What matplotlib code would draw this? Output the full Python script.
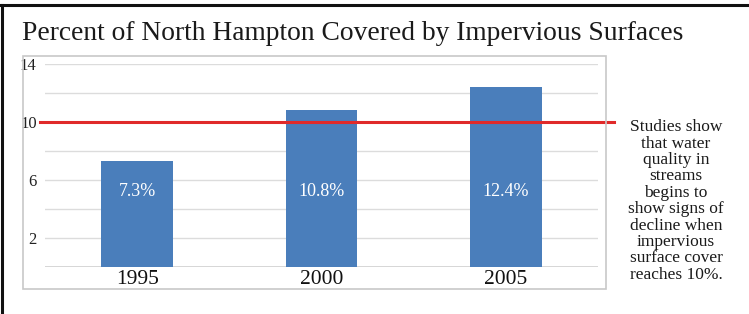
import matplotlib.pyplot as plt
from matplotlib.patches import Rectangle
from matplotlib.lines import Line2D

years = ["1995", "2000", "2005"]
values = [7.3, 10.8, 12.4]
bar_labels = ["7.3%", "10.8%", "12.4%"]
threshold = 10
y_ticks = [2, 6, 10, 14]
grid_levels = [2, 4, 6, 8, 10, 12, 14]

BAR_COLOR = "#4a7ebb"
RED = "#e02a2a"
W, H = 749, 314

plt.rcParams["font.family"] = ["Liberation Serif", "DejaVu Serif"]

fig = plt.figure(figsize=(W / 100, H / 100), dpi=100)

# outer black frame (top and left visible)
fig.add_artist(Line2D([0, 1], [1 - 4.5 / H, 1 - 4.5 / H], color="#111111", lw=2.2))
fig.add_artist(Line2D([1.5 / W, 1.5 / W], [0, 1 - 4.5 / H], color="#111111", lw=2.2))

# light chart-area box
fig.add_artist(Rectangle((23 / W, 1 - 289 / H), (606 - 23) / W, (289 - 56) / H,
                         transform=fig.transFigure, fill=False, ec="#c8c8c8", lw=1.2))

fig.text(22 / W, 1 - 33 / H, "Percent of North Hampton Covered by Impervious Surfaces",
         fontsize=19.8, va="center", ha="left", color="#1a1a1a")

ax = fig.add_axes([45 / W, 1 - 267 / H, (598 - 45) / W, (267 - 64) / H])
x = range(len(years))
ax.bar(x, values, width=0.39, color=BAR_COLOR, zorder=2)
for xi, lab in zip(x, bar_labels):
    ax.text(xi, 5.2, lab, color="white", ha="center", va="center", fontsize=13, zorder=3)

ax.set_xlim(-0.5, 2.5)
ax.set_ylim(0, 14)
for g in grid_levels:
    ax.axhline(g, color="#dcdcdc", lw=1, zorder=1)
ax.axhline(0, color="#d0d0d0", lw=1.2, zorder=1)
ax.axhline(threshold, xmin=-0.009, xmax=1.029, color=RED, lw=2.2, zorder=4, clip_on=False)

ax.set_yticks(y_ticks)
ax.set_yticklabels([str(t) for t in y_ticks], fontsize=12, color="#222222")
ax.set_xticks(list(x))
ax.set_xticklabels(years, fontsize=15.5, color="#111111")
ax.tick_params(length=0, pad=2)
ax.tick_params(axis="y", pad=6)
for s in ax.spines.values():
    s.set_visible(False)

fig.text(676 / W, 1 - 201 / H,
         "Studies show\nthat water\nquality in\nstreams\nbegins to\nshow signs of\ndecline when\nimpervious\nsurface cover\nreaches 10%.",
         ha="center", va="center", fontsize=12.5, linespacing=1.03, color="#1a1a1a")

fig.savefig("out.png", dpi=100)
